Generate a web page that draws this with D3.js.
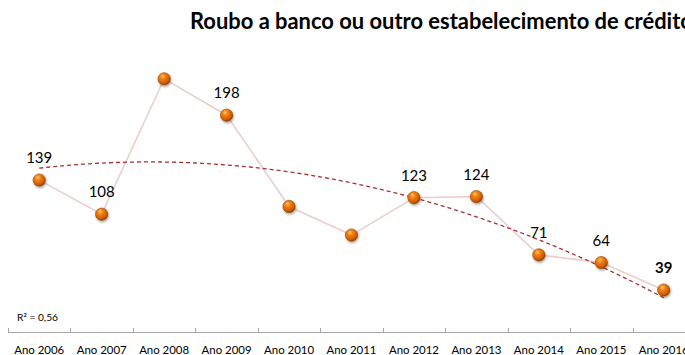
<!DOCTYPE html>
<html>
<head>
<meta charset="utf-8">
<script src="https://cdn.jsdelivr.net/npm/d3@7"></script>
<style>
  html, body { margin: 0; padding: 0; background: #fff; }
  svg { display: block; }
</style>
</head>
<body>
<svg id="chart" width="685" height="355"></svg>
<script>
// Roubo a banco ou outro estabelecimento de crédito, 2006–2016
const years = ["Ano 2006", "Ano 2007", "Ano 2008", "Ano 2009", "Ano 2010", "Ano 2011",
               "Ano 2012", "Ano 2013", "Ano 2014", "Ano 2015", "Ano 2016"];
const values = [139, 108, 231, 198, 115, 89, 123, 124, 71, 64, 39];
const showLabel = [true, true, false, true, false, false, true, true, true, true, true];
const boldLabel = [false, false, false, false, false, false, false, false, false, false, true];
const titleText = "Roubo a banco ou outro estabelecimento de crédito";
const r2Text = "R² = 0,56";

const svg = d3.select("#chart");
const W = 685, H = 355;
const font = "Lato, 'Open Sans', sans-serif";

const plot = { left: 8, right: 695, top: 58, bottom: 333 };

const x = d3.scaleBand().domain(years).range([plot.left, plot.right]).padding(0);
const y = d3.scaleLinear().domain([0, 250]).range([plot.bottom, plot.top]);
const cx = d => x(d) + x.bandwidth() / 2;

// scale a text element's font so its rendered width equals a target
function fitWidth(sel, target) {
  const node = sel.node();
  const size = parseFloat(sel.attr("font-size"));
  const w = node.getComputedTextLength();
  sel.attr("font-size", (size * target / w).toFixed(2));
}

const defs = svg.append("defs");
const grad = defs.append("radialGradient").attr("id", "ball")
  .attr("cx", "40%").attr("cy", "35%").attr("r", "65%").attr("fx", "38%").attr("fy", "28%");
grad.append("stop").attr("offset", "0%").attr("stop-color", "#ffc27a");
grad.append("stop").attr("offset", "35%").attr("stop-color", "#f08010");
grad.append("stop").attr("offset", "80%").attr("stop-color", "#d05c00");
grad.append("stop").attr("offset", "100%").attr("stop-color", "#8c3a00");

const shadow = defs.append("filter").attr("id", "shadow")
  .attr("x", "-50%").attr("y", "-50%").attr("width", "200%").attr("height", "200%");
shadow.append("feDropShadow").attr("dx", 0.8).attr("dy", 1.6).attr("stdDeviation", 1.2)
  .attr("flood-color", "#000").attr("flood-opacity", 0.35);

// title
const title = svg.append("text")
  .attr("x", 190).attr("y", 29)
  .attr("font-family", font).attr("font-weight", "bold").attr("font-size", 17)
  .attr("fill", "#000")
  .text(titleText);
fitWidth(title, 503);

// category axis
const axis = d3.axisBottom(x).tickSize(0).tickPadding(0);
const gx = svg.append("g").attr("transform", `translate(0,${plot.bottom - 1})`).call(axis);
gx.select(".domain").attr("stroke", "#a6a6a6").attr("stroke-width", 1)
  .attr("d", `M${plot.left},0.5H${plot.right}`);
gx.selectAll(".tick line").remove();
gx.selectAll(".tick text").remove();

// boundary tick marks between categories
const boundaries = years.map(d => x(d));
svg.append("g").selectAll("line").data(boundaries).join("line")
  .attr("x1", d => Math.round(d) + 0.5).attr("x2", d => Math.round(d) + 0.5)
  .attr("y1", plot.bottom - 5).attr("y2", plot.bottom)
  .attr("stroke", "#a6a6a6").attr("stroke-width", 1);

// category labels
const labels = svg.append("g").selectAll("text").data(years).join("text")
  .attr("x", d => cx(d)).attr("y", 354)
  .attr("text-anchor", "middle")
  .attr("font-family", font).attr("font-size", 12).attr("fill", "#000")
  .text(d => d);
{
  const n = labels.nodes()[0];
  const w = n.getComputedTextLength();
  labels.attr("font-size", (12 * 50 / w).toFixed(2));
}

// R² annotation
const r2 = svg.append("text")
  .attr("x", 17).attr("y", 321)
  .attr("font-family", font).attr("font-size", 10).attr("fill", "#000")
  .text(r2Text);
fitWidth(r2, 41);

// data line
const line = d3.line().x((d, i) => cx(years[i])).y(d => y(d));
svg.append("path").datum(values)
  .attr("d", line)
  .attr("fill", "none").attr("stroke", "#ebcfcf").attr("stroke-width", 1.6);

// second-order polynomial trend fitted by least squares
const n = values.length;
const ts = values.map((_, i) => i + 1);
const tMean = d3.mean(ts);
const yMean = d3.mean(values);
const u = ts.map(t => t - tMean);
const u2Mean = d3.mean(u, v => v * v);
const p = u.map(v => v * v - u2Mean);
const b1 = d3.sum(u, (v, i) => v * values[i]) / d3.sum(u, v => v * v);
const b2 = d3.sum(p, (v, i) => v * values[i]) / d3.sum(p, v => v * v);
const trend = t => yMean + b1 * (t - tMean) + b2 * ((t - tMean) ** 2 - u2Mean);

const step = x.step();
const tx = t => cx(years[0]) + (t - 1) * step;
const trendPts = d3.range(1, n + 0.0001, 0.1);
svg.append("path")
  .datum(trendPts)
  .attr("d", d3.line().x(t => tx(t)).y(t => y(trend(t))))
  .attr("fill", "none").attr("stroke", "#a8322f").attr("stroke-width", 1.3)
  .attr("stroke-dasharray", "4,3");

// markers
svg.append("g").selectAll("circle").data(values).join("circle")
  .attr("cx", (d, i) => cx(years[i])).attr("cy", d => y(d))
  .attr("r", 6.2)
  .attr("fill", "url(#ball)")
  .attr("stroke", "#9a4a08").attr("stroke-width", 0.6)
  .attr("filter", "url(#shadow)");

// value labels
svg.append("g").selectAll("text")
  .data(values.map((v, i) => ({ v, i })).filter(d => showLabel[d.i]))
  .join("text")
  .attr("x", d => cx(years[d.i])).attr("y", d => y(d.v) - 17)
  .attr("text-anchor", "middle")
  .attr("font-family", font).attr("font-size", 15)
  .attr("font-weight", d => boldLabel[d.i] ? "bold" : "normal")
  .attr("fill", "#000")
  .text(d => d.v);
</script>
</body>
</html>
